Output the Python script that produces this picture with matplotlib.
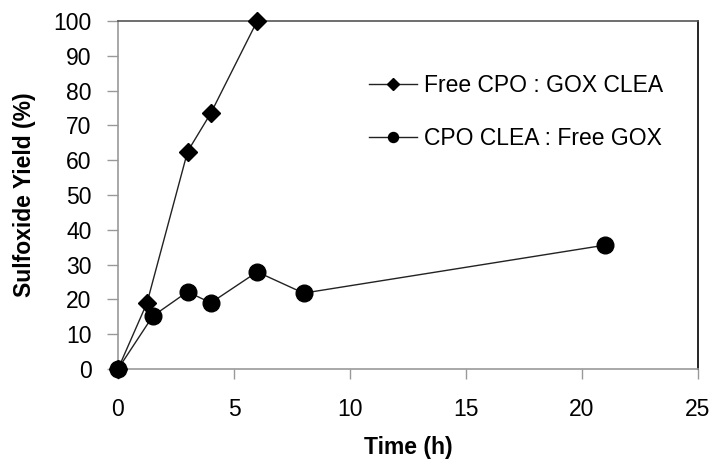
import matplotlib
matplotlib.use("Agg")
import matplotlib.pyplot as plt

plt.rcParams['font.family'] = ['Liberation Sans', 'DejaVu Sans']

time_free_cpo = [0, 1.25, 3, 4, 6]
yield_free_cpo = [0, 19, 62.5, 73.5, 100]
time_cpo_clea = [0, 1.5, 3, 4, 6, 8, 21]
yield_cpo_clea = [0, 15.2, 22.2, 19.0, 27.9, 21.8, 35.6]
label_free_cpo = "Free CPO : GOX CLEA"
label_cpo_clea = "CPO CLEA : Free GOX"
xticks = [0, 5, 10, 15, 20, 25]
yticks = list(range(0, 101, 10))

W, H = 715, 459
fig = plt.figure(figsize=(W/100, H/100), dpi=100)
ax = fig.add_axes([118/W, 1-369/H, (698-118)/W, (369-21)/H])

l1, = ax.plot(time_free_cpo, yield_free_cpo, color='#222222', lw=1.0, marker='D',
              markersize=9.5, markerfacecolor='black', markeredgecolor='black', clip_on=False, zorder=3)
l2, = ax.plot(time_cpo_clea, yield_cpo_clea, color='#222222', lw=1.0, marker='o',
              markersize=12, markerfacecolor='black', markeredgecolor='black', clip_on=False, zorder=3)

ax.set_xlim(0, 25)
ax.set_ylim(0, 100)
ax.set_xticks(xticks)
ax.set_yticks(yticks)
ax.tick_params(axis='both', direction='out', width=1, color='#999999',
               labelsize=16.5, labelcolor='black')
ax.tick_params(axis='x', length=7, pad=14)
ax.tick_params(axis='y', length=8, pad=11)
for s in ['left', 'bottom']:
    ax.spines[s].set_color('#999999')
    ax.spines[s].set_linewidth(1.2)
ax.spines['top'].set_color('#555555')
ax.spines['top'].set_linewidth(1.2)
ax.spines['right'].set_color('black')
ax.spines['right'].set_linewidth(1.2)

ax.set_xlabel('Time (h)', fontsize=16.5, fontweight='bold')
ax.set_ylabel('Sulfoxide Yield (%)', fontsize=16.5, fontweight='bold')
ax.xaxis.set_label_coords(0.5, -0.192)
ax.yaxis.set_label_coords(-0.142, 0.5)

leg = fig.legend([l1, l2], [label_free_cpo, label_cpo_clea], loc='center left',
                 bbox_to_anchor=(348/W, 1-112/H), frameon=False, fontsize=16.5,
                 markerscale=0.6, handlelength=2.13, handletextpad=0.3, labelspacing=1.3)

fig.savefig('out.png', dpi=100)
